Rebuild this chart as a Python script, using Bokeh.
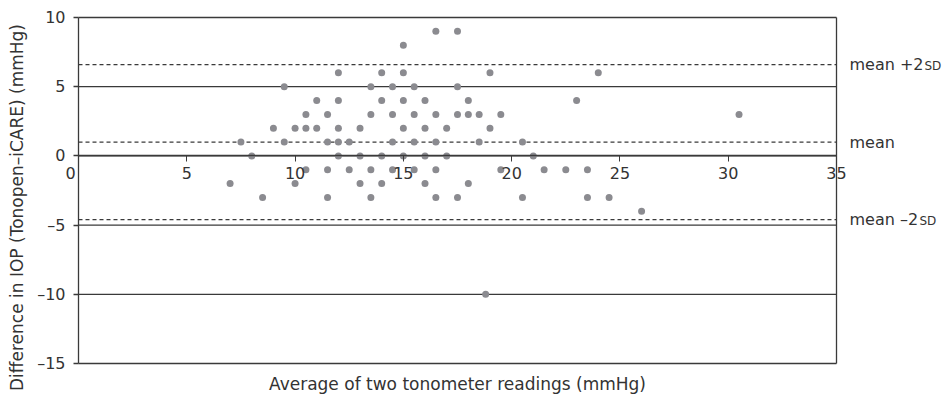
import math
from bokeh.plotting import figure
from bokeh.models import LinearAxis, FixedTicker, Label, Range1d, ColumnDataSource
from bokeh.embed import file_html
from bokeh.resources import INLINE

# ---- data ----
avg_iop = [
    16.5, 17.5,
    15,
    12, 14, 15, 19, 24,
    9.5, 13.5, 14.5, 15.5, 17.5,
    11, 12, 14, 15, 16, 18, 23,
    10.5, 11.5, 13.5, 14.5, 15.5, 16.5, 17.5, 18, 18.5, 19.5, 30.5,
    9, 10, 10.5, 11, 12, 13, 15, 16, 17, 19,
    7.5, 9.5, 11.5, 12, 12.5, 14.5, 15.5, 16.5, 18.5, 20.5,
    8, 12, 13, 14, 15, 16, 17, 21,
    10.5, 11.5, 12.5, 13.5, 14.5, 15.5, 16.5, 19.5, 21.5, 22.5, 23.5,
    7, 10, 13, 14, 16, 18,
    8.5, 11.5, 13.5, 16.5, 17.5, 20.5, 23.5, 24.5,
    26,
    18.8,
]
diff_iop = (
    [9] * 2 + [8] * 1 + [6] * 5 + [5] * 5 + [4] * 7 + [3] * 11 + [2] * 10
    + [1] * 10 + [0] * 8 + [-1] * 11 + [-2] * 6 + [-3] * 8 + [-4] * 1 + [-10] * 1
)

x_ticks = [0, 5, 10, 15, 20, 25, 30, 35]
y_ticks = [-15, -10, -5, 0, 5, 10]
y_tick_labels = {-15: "\u201315", -10: "\u201310", -5: "\u20135", 0: "0", 5: "5", 10: "10"}

mean_diff = 1.0
upper_loa = 6.6
lower_loa = -4.6
loa_levels = [upper_loa, mean_diff, lower_loa]
loa_main_text = ["mean +2", "mean", "mean \u20132"]
loa_small_text = ["SD", "", "SD"]

x_title = "Average of two tonometer readings (mmHg)"
y_title = "Difference in IOP (Tonopen\u2013iCARE) (mmHg)"

FONT = "DejaVu Sans"
TXT = "#333333"
LINE = "#3a3a3a"

# canvas 946x398; data box spans pixels x 78..836, y 17..363
W, H = 946, 398
X0, X1 = x_ticks[0], x_ticks[-1]
Y0, Y1 = y_ticks[0], y_ticks[-1]
sx = (836 - 78) / (X1 - X0)
sy = (363 - 17) / (Y1 - Y0)
x_range = Range1d(X0 - 78 / sx, X1 + (W - 836) / sx)
y_range = Range1d(Y0 - (H - 363) / sy, Y1 + 17 / sy)

p = figure(
    width=W, height=H, title=None,
    x_range=x_range, y_range=y_range,
    x_axis_location=None, y_axis_location=None,
    output_backend="svg", toolbar_location=None,
    min_border=0, min_border_left=0, min_border_right=0,
    min_border_top=0, min_border_bottom=0,
)
p.background_fill_color = "white"
p.border_fill_color = "white"
p.outline_line_color = None
p.xgrid.visible = False
p.ygrid.visible = False

# box and horizontal reference lines at every y tick
ny = len(y_ticks)
p.segment(x0=[X0] * ny, x1=[X1] * ny, y0=y_ticks, y1=y_ticks,
          line_color=LINE, line_width=1.3)
p.segment(x0=[X0, X1], x1=[X0, X1], y0=[Y0, Y0], y1=[Y1, Y1],
          line_color=LINE, line_width=1.3)

# mean and limits of agreement
n = len(loa_levels)
p.segment(x0=[X0] * n, x1=[X1] * n, y0=loa_levels, y1=loa_levels,
          line_color=LINE, line_width=1.2, line_dash="4 3")

# x axis drawn at y = 0
xaxis = LinearAxis(fixed_location=0, ticker=FixedTicker(ticks=x_ticks), bounds=(X0, X1))
xaxis.major_label_overrides = {0: ""}
xaxis.axis_line_color = LINE
xaxis.axis_line_width = 1.3
xaxis.major_tick_line_color = LINE
xaxis.major_tick_out = 6
xaxis.major_tick_in = 0
xaxis.minor_tick_line_color = None
xaxis.major_label_standoff = 5
xaxis.major_label_text_font = FONT
xaxis.major_label_text_font_size = "16px"
xaxis.major_label_text_color = TXT
p.add_layout(xaxis, "below")

# axis carrying only the x title, at the bottom edge of the box
xtitle = LinearAxis(fixed_location=Y0, ticker=FixedTicker(ticks=[]), bounds=(X0, X1))
xtitle.axis_line_color = None
xtitle.major_tick_line_color = None
xtitle.major_tick_out = 0
xtitle.major_tick_in = 0
xtitle.minor_tick_line_color = None
xtitle.major_label_text_font_size = "0px"
xtitle.major_label_standoff = 0
xtitle.axis_label = x_title
xtitle.axis_label_text_font = FONT
xtitle.axis_label_text_font_size = "17px"
xtitle.axis_label_text_font_style = "normal"
xtitle.axis_label_text_color = TXT
xtitle.axis_label_standoff = 10
p.add_layout(xtitle, "below")

yaxis = LinearAxis(fixed_location=X0, ticker=FixedTicker(ticks=y_ticks))
yaxis.major_label_overrides = y_tick_labels
yaxis.axis_line_color = None
yaxis.major_tick_line_color = LINE
yaxis.major_tick_line_width = 1.3
yaxis.major_tick_out = 5
yaxis.major_tick_in = 0
yaxis.minor_tick_line_color = None
yaxis.major_label_standoff = 8
yaxis.major_label_text_font = FONT
yaxis.major_label_text_font_size = "16px"
yaxis.major_label_text_color = TXT
p.add_layout(yaxis, "left")

# y title
p.add_layout(Label(x=X0, y=(Y0 + Y1) / 2, text=y_title, angle=math.pi / 2,
                   x_offset=-62, y_offset=-17,
                   text_align="center", text_baseline="middle",
                   text_font=FONT, text_font_size="17px", text_color=TXT))

# "0" label of the x axis, set left of the y axis
p.add_layout(Label(x=X0, y=0, text="0", x_offset=-8, y_offset=-11,
                   text_align="center", text_baseline="top",
                   text_font=FONT, text_font_size="16px", text_color=TXT))

small_offsets = [88, 0, 83]
for lvl, main_t, small_t, off in zip(loa_levels, loa_main_text, loa_small_text, small_offsets):
    p.add_layout(Label(x=X1, y=lvl, text=main_t, x_offset=13, y_offset=0,
                       text_align="left", text_baseline="middle",
                       text_font=FONT, text_font_size="16px", text_color=TXT))
    if small_t:
        p.add_layout(Label(x=X1, y=lvl, text=small_t, x_offset=off, y_offset=-1,
                           text_align="left", text_baseline="middle",
                           text_font=FONT, text_font_size="12px", text_color=TXT))

src = ColumnDataSource(data=dict(x=avg_iop, y=diff_iop))
p.scatter("x", "y", source=src, size=7, fill_color="#8b8b90", line_color=None)

open("out.html", "w").write(file_html(p, INLINE))
